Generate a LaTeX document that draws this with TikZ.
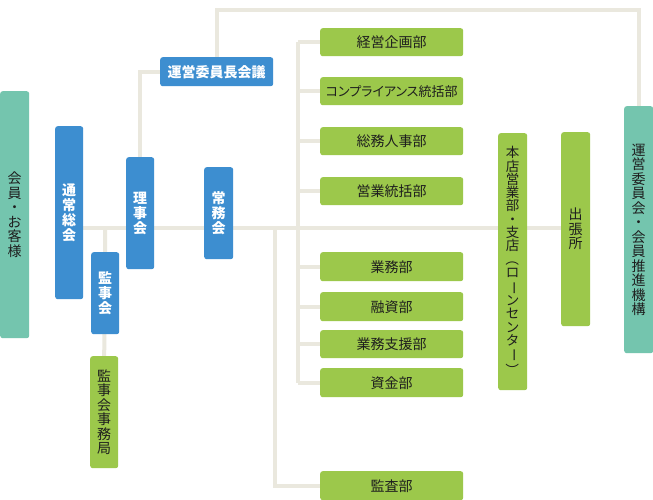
\documentclass[tikz,border=0pt]{standalone}
\usepackage{fontspec}
\usepackage{graphicx}
\usetikzlibrary{backgrounds}
\newfontfamily\jp{Noto Sans CJK JP}
\newfontfamily\jpp[RawFeature=+palt]{Noto Sans CJK JP}
\definecolor{cblue}{HTML}{3D8ED0}
\definecolor{cgreen}{HTML}{9CC84B}
\definecolor{cteal}{HTML}{74C5AE}
\definecolor{cline}{HTML}{EAE8DE}
\definecolor{ctext}{HTML}{1E1E1E}
\newcommand{\rv}[1]{\rotatebox[origin=c]{-90}{#1}}
\tikzset{
  box/.style={rounded corners=2.5pt, inner sep=0pt, align=center, anchor=north west},
  bluebox/.style={box, fill=cblue, text=white, font=\jp\bfseries\fontsize{14}{15}\selectfont},
  greenbox/.style={box, fill=cgreen, text=ctext, font=\jp\fontsize{14}{14.5}\selectfont},
  tealbox/.style={box, fill=cteal, text=ctext, font=\jp\fontsize{14}{14.5}\selectfont},
  conn/.style={draw=cline, line width=4pt},
}
\begin{document}
\begin{tikzpicture}[x=1pt,y=-1pt]
\useasboundingbox (0,0) rectangle (653,500);
% coordinates for lines
\coordinate (mainy) at (0,228);
\coordinate (topy) at (0,10);
\coordinate (busA) at (298,228);
\coordinate (busB) at (275,228);
% nodes
\node[tealbox, minimum width=29pt, minimum height=247pt] (kaiin) at (0,91) {会\\員\\・\\お\\客\\様};
\node[bluebox, minimum width=28pt, minimum height=173pt] (tsujo) at (55,126) {通\\常\\総\\会};
\node[bluebox, minimum width=28pt, minimum height=112pt] (riji) at (126,157) {理\\事\\会};
\node[bluebox, minimum width=28pt, minimum height=82pt] (kanji) at (91,252) {監\\事\\会};
\node[greenbox, minimum width=28pt, minimum height=112pt] (jimu) at (90,356) {監\\事\\会\\事\\務\\局};
\node[bluebox, minimum width=29pt, minimum height=92pt] (jomu) at (204,167) {常\\務\\会};
\node[bluebox, minimum width=113pt, minimum height=29pt] (iincho) at (160,57) {運営委員長会議};
\node[greenbox, minimum width=143pt, minimum height=28pt] (keiei) at (320,28) {経営企画部};
\node[greenbox, minimum width=143pt, minimum height=28pt, font=\jpp\fontsize{13}{14}\selectfont] (comp) at (320,77) {コンプライアンス統括部};
\node[greenbox, minimum width=143pt, minimum height=28pt] (somu) at (320,127) {総務人事部};
\node[greenbox, minimum width=143pt, minimum height=28pt] (eigyo) at (320,177) {営業統括部};
\node[greenbox, minimum width=143pt, minimum height=29pt] (gyomu) at (320,252) {業務部};
\node[greenbox, minimum width=143pt, minimum height=29pt] (yushi) at (320,292) {融資部};
\node[greenbox, minimum width=143pt, minimum height=28pt] (shien) at (320,330) {業務支援部};
\node[greenbox, minimum width=143pt, minimum height=29pt] (shikin) at (320,368) {資金部};
\node[greenbox, minimum width=143pt, minimum height=29pt] (kansa) at (320,471) {監査部};
\node[greenbox, minimum width=29pt, minimum height=257pt, font=\jp\fontsize{13.5}{13.3}\selectfont] (honten) at (498,133) {本\\店\\営\\業\\部\\・\\支\\店\\\rv{（}\\ロ\\\rv{ー}\\ン\\セ\\ン\\タ\\\rv{ー}\\\rv{）}};
\node[greenbox, minimum width=29pt, minimum height=194pt] (shucho) at (561,132) {出\\張\\所};
\node[tealbox, minimum width=29pt, minimum height=247pt] (unei) at (624,106) {運\\営\\委\\員\\会\\・\\会\\員\\推\\進\\機\\構};
% connectors (behind)
\begin{scope}[on background layer]
\fill[white] (0,0) rectangle (653,500);
\draw[conn] (tsujo.east |- mainy) -- (shucho.west |- mainy);
\draw[conn] (kanji.center |- mainy) -- (jimu.north);
\draw[conn] (riji.north) -- (riji.north |- iincho.west) -- (iincho.west);
\draw[conn] (iincho.north) -- (iincho.north |- topy) -- (unei.north |- topy) -- (unei.north);
\draw[conn] (busA |- keiei.west) -- (busA |- shikin.west);
\foreach \n in {keiei,comp,somu,eigyo,gyomu,yushi,shien,shikin}
  \draw[conn] (busA |- \n.west) -- (\n.west);
\draw[conn] (busB) -- (busB |- kansa.west) -- (kansa.west);
\end{scope}
\end{tikzpicture}
\end{document}
